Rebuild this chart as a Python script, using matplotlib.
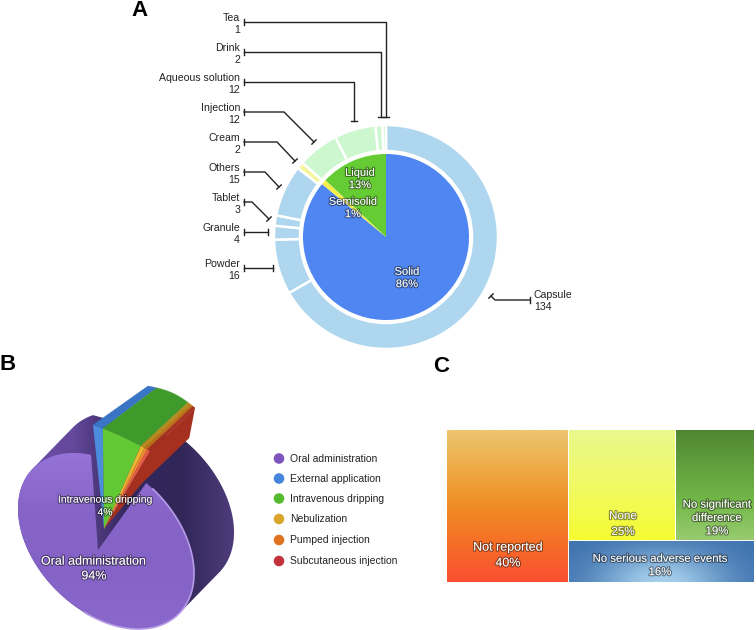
import numpy as np
import matplotlib
matplotlib.use("Agg")
import matplotlib.pyplot as plt
import matplotlib.patheffects as pe
from matplotlib.colors import to_rgb
from matplotlib.patches import Polygon

plt.rcParams['font.family'] = ['Liberation Sans', 'DejaVu Sans']

# panel A
ring_names = ["Capsule", "Powder", "Granule", "Tablet", "Others", "Cream", "Injection",
              "Aqueous solution", "Drink", "Tea"]
ring_values = [134, 16, 4, 3, 15, 2, 12, 12, 2, 1]
ring_colors = ["#aed6ee"] * 5 + ["#f6f59a"] + ["#cdf8cf"] * 4
form_names = ["Solid", "Semisolid", "Liquid"]
form_values = [86, 1, 13]
form_colors = ["#4f86f2", "#f4ee4a", "#66cc33"]

# panel B
route_names = ["Oral administration", "External application", "Intravenous dripping",
               "Nebulization", "Pumped injection", "Subcutaneous injection"]
route_values = [94, 1, 4, 0.4, 0.3, 0.3]
route_colors = ["#7d55bd", "#4585dc", "#57bb30", "#d9a52a", "#df7322", "#c2323a"]
route_front = ["#8a66cc", "#4c8cdc", "#62c934", "#ecb52f", "#f08a2c", "#e85c44"]
route_wall = ["#3f2f70", "#3a74c4", "#3f9a2c", "#b58a1e", "#ba6f18", "#a5301f"]

# panel C
effect_names = ["Not reported", "None", "No significant\ndifference", "No serious adverse events"]
effect_values = [39.7, 25.4, 18.6, 16.3]
effect_labels = ["40%", "25%", "19%", "16%"]

fig = plt.figure(figsize=(7.56, 6.3), dpi=100)
ax = fig.add_axes([0, 0, 1, 1])
ax.set_xlim(0, 756)
ax.set_ylim(630, 0)
ax.axis("off")
ax.set_zorder(2)

shadow = [pe.withStroke(linewidth=1.6, foreground="#00000070")]


def gradient(poly, stops, horizontal=False, zorder=2):
    # fill a polygon with a linear gradient, clipped by the polygon
    poly = np.array(poly)
    x0, y0 = poly.min(axis=0)
    x1, y1 = poly.max(axis=0)
    stops = np.array(stops, dtype=float) / 255
    pos = np.linspace(0, 1, len(stops))
    s = np.linspace(0, 1, 128)
    line = np.stack([np.interp(s, pos, stops[:, i]) for i in range(3)], axis=1)
    img = line[None, :, :] if horizontal else line[:, None, :]
    im = ax.imshow(img, extent=(x0, x1, y1, y0), aspect="auto", zorder=zorder, interpolation="bilinear")
    patch = Polygon(poly, closed=True, transform=ax.transData, fc="none", ec="none")
    ax.add_patch(patch)
    im.set_clip_path(patch)
    ax.set_xlim(0, 756)
    ax.set_ylim(630, 0)


def convex_hull(points):
    pts = sorted(map(tuple, points))

    def half(seq):
        out = []
        for p in seq:
            while len(out) >= 2 and ((out[-1][0] - out[-2][0]) * (p[1] - out[-2][1])
                                     - (out[-1][1] - out[-2][1]) * (p[0] - out[-2][0])) <= 0:
                out.pop()
            out.append(p)
        return out[:-1]

    return half(pts) + half(pts[::-1])


# ---- A: nested pie
pie_ax = fig.add_axes([(386 - 112) / 756, 1 - (237 + 112) / 630, 224 / 756, 224 / 630])
pie_ax.set_zorder(1)
pie_ax.pie(ring_values, colors=ring_colors, startangle=90, counterclock=False, radius=112,
           wedgeprops=dict(width=26, edgecolor="white", linewidth=1.8), frame=False)
pie_ax.pie(form_values, colors=form_colors, startangle=90, counterclock=False, radius=83,
           wedgeprops=dict(edgecolor="none"), frame=False)
pie_ax.set_xlim(-112, 112)
pie_ax.set_ylim(-112, 112)
pie_ax.axis("off")

form_pos = [(407, 278), (353, 208), (360, 179)]
for name, v, (x, y) in zip(form_names, form_values, form_pos):
    ax.text(x, y, name + "\n" + str(v) + "%", color="white", fontsize=8, ha="center", va="center",
            linespacing=1.3, path_effects=shadow, zorder=10)

leaders = {
    "Tea": [(244, 22), (386, 22), (386, 117)],
    "Drink": [(244, 52), (381, 52), (381, 117)],
    "Aqueous solution": [(244, 82), (354, 82), (354, 121)],
    "Injection": [(244, 112), (284, 112), (314, 142)],
    "Cream": [(244, 142), (277, 142), (295, 161)],
    "Others": [(244, 172), (265, 172), (279, 187)],
    "Tablet": [(244, 202), (252, 202), (269, 219)],
    "Granule": [(244, 232), (268, 232)],
    "Powder": [(244, 268), (273, 268)],
    "Capsule": [(530, 300), (495, 300), (491, 296)],
}
for name, v in zip(ring_names, ring_values):
    pts = np.array(leaders[name], dtype=float)
    ax.plot(pts[:, 0], pts[:, 1], color="#222222", lw=1.0, zorder=5)
    for a, b in [(pts[1], pts[0]), (pts[-2], pts[-1])]:
        d = (b - a) / np.hypot(*(b - a))
        n = np.array([-d[1], d[0]]) * 3
        ax.plot([b[0] - n[0], b[0] + n[0]], [b[1] - n[1], b[1] + n[1]], color="#222222", lw=1.0, zorder=5)
    if name == "Capsule":
        ax.text(534, 301, name + "\n" + str(v), fontsize=7.6, color="#222222", ha="left", va="center", linespacing=1.33)
    else:
        ax.text(240, pts[0, 1] + 2, name + "\n" + str(v), fontsize=7.6, color="#222222", ha="right", va="center",
                ma="right", linespacing=1.33)

# ---- B: tilted 3D pie
C = np.array([106.0, 541.0])
u = np.array([0.707, 0.707])
v = np.array([0.707, -0.707])
A_AX, B_AX = 103.0, 70.0
apex = np.array([98.0, 550.0])
back_shift = np.array([40.0, -41.0])
back_scale = 1.0
apex_moved = np.array([104.0, 529.0])
rim_left = np.array([93.0, 425.0])
rim_right = np.array([150.0, 451.0])
back_left = np.array([148.0, 386.0])
back_right = np.array([195.0, 408.0])


def rim(t_deg, scale=1.0, c=C):
    t = np.atleast_1d(np.radians(t_deg))
    return c + scale * (A_AX * np.cos(t)[:, None] * u + B_AX * np.sin(t)[:, None] * v)


def along(p0, p1, f, bulge):
    # nearly straight outer edge of the pulled out slices, f runs 0..1
    f = np.asarray(f)[:, None]
    return p0 + f * (p1 - p0) + np.sin(np.pi * f) * np.array([0.45, -0.9]) * bulge


oral_left = 134.0
oral_right = 97.0
small_share = sum(route_values[1:])
shares = np.cumsum([0] + route_values[1:]) / small_share

# dark body, leaving out the back rim above the cut
tt = np.linspace(0, 360, 240)
keep = (tt < 98) | (tt > 160)
hull = convex_hull(np.vstack([rim(tt), rim(tt[keep], back_scale, C + back_shift)]))
gradient(hull, [(112, 80, 172), (100, 72, 155), (52, 40, 92), (48, 38, 88), (78, 60, 122)], horizontal=True, zorder=2)

# outer walls of the pulled out slices, then their front faces
for i in range(1, len(route_values)):
    f = np.linspace(shares[i - 1], shares[i], 12)
    r_front = along(rim_left, rim_right, f, 1.5)
    r_back = along(back_left, back_right, f, 4.0)
    ax.add_patch(Polygon(np.vstack([r_front, r_back[::-1]]), closed=True, fc=route_wall[i], ec=route_wall[i],
                         lw=0.3, zorder=3))
    ax.add_patch(Polygon(np.vstack([apex_moved, r_front]), closed=True, fc=route_front[i], ec="none", zorder=4))

# side wall of the last slice, running back down to the pie
elbow = rim(oral_right)[0] + np.array([-4.0, 0.0])
elbow2 = elbow + np.array([47.0, -45.0])
ax.add_patch(Polygon([apex_moved, rim_right, back_right, elbow2, elbow], closed=True,
                     fc=route_wall[-1], ec="none", zorder=3))

# oral slice top face, with the notch cut out
ts = np.linspace(oral_right, oral_left - 360, 200)
oral = np.vstack([apex, rim(ts)])
gradient(oral, [(150, 115, 215), (134, 100, 200), (132, 98, 198), (138, 104, 204)], zorder=5)
right_part = rim(np.linspace(oral_right - 5, -70, 60))
ax.plot(right_part[:, 0], right_part[:, 1], color="#b79be6", lw=1.2, zorder=6)

ax.text(105, 506, route_names[2] + "\n" + str(route_values[2]) + "%", color="white", fontsize=7.5,
        ha="center", va="center", linespacing=1.35, path_effects=shadow, zorder=10)
ax.text(94, 569, route_names[0] + "\n" + str(route_values[0]) + "%", color="white", fontsize=9,
        ha="center", va="center", linespacing=1.3, path_effects=shadow, zorder=10)

legend_y = [458.5, 478.5, 498.5, 519, 540, 561]
ax.scatter([279] * 6, legend_y, s=58, c=route_colors, linewidths=0, zorder=5)
for name, y in zip(route_names, legend_y):
    ax.text(290, y, name, fontsize=7.45, color="#222222", ha="left", va="center")

# ---- C: treemap
x0, x1, y0, y1 = 447.0, 754.0, 430.0, 582.0
W, H = x1 - x0, y1 - y0
total = sum(effect_values)
w0 = W * effect_values[0] / total
rest = total - effect_values[0]
h_low = H * effect_values[3] / rest
w1 = (W - w0) * effect_values[1] / (effect_values[1] + effect_values[2])
gap = 0.6


def box(xa, xb, ya, yb):
    return [(xa, ya), (xb, ya), (xb, yb), (xa, yb)]


xm = x0 + w0
ym = y1 - h_low
xs = xm + w1
gradient(box(x0, xm - gap, y0, y1), [(236, 198, 112), (238, 170, 70), (240, 140, 35), (246, 110, 40), (250, 80, 50)])
gradient(box(xm + gap, xs - gap, y0, ym - gap), [(234, 248, 140), (240, 250, 100), (245, 252, 50)])
gradient(box(xs + gap, x1, y0, ym - gap), [(80, 134, 50), (98, 160, 62), (116, 185, 74), (152, 203, 112)])

# blue box has a soft glow low in the middle
bx = np.linspace(-1, 1, 120)
by = np.linspace(0, 1.3, 40)
gx, gy = np.meshgrid(bx, by)
glow = np.exp(-((gx / 0.7) ** 2 + ((gy - 1.3) / 1.0) ** 2))
blue_dark = np.array(to_rgb("#3e72ae"))
blue_light = np.array(to_rgb("#a4ceec"))
img = blue_dark + glow[:, :, None] * (blue_light - blue_dark)
ax.imshow(img, extent=(xm + gap, x1, y1, ym + gap), aspect="auto", zorder=2)
ax.set_xlim(0, 756)
ax.set_ylim(630, 0)

label_pos = [(508, 555.5, 9), (623, 524, 8.4), (717, 518, 8.2), (660, 565.5, 8.2)]
for name, lab, (x, y, fs) in zip(effect_names, effect_labels, label_pos):
    ax.text(x, y, name + "\n" + lab, color="white", fontsize=fs, ha="center", va="center",
            linespacing=1.42, path_effects=shadow, zorder=10)

# panel letters
for letter, x, y in [("A", 139, 10), ("B", 8, 365), ("C", 441, 366)]:
    ax.text(x, y, letter, fontsize=16, fontweight="bold", color="black", ha="center", va="center")

fig.savefig("out.png", dpi=100)
